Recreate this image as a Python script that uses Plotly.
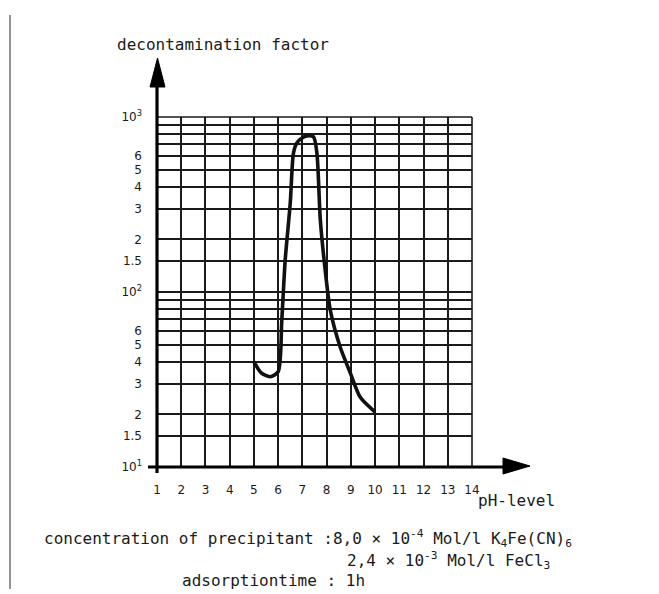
import plotly.graph_objects as go

# ---- data ----
ph_level = [5.0, 5.3, 5.67, 6.0, 6.15, 6.29, 6.5, 6.63, 6.77, 7.0, 7.18, 7.46, 7.6, 7.74, 7.94, 8.15, 8.56, 8.98, 9.39, 10.0]
decon_factor = [40, 34.5, 32.8, 35, 69, 152, 323, 620, 710, 760, 780, 770, 620, 258, 134, 79, 48.5, 34.4, 25, 20.6]

x_ticks = list(range(1, 15))
x_ticktext = [str(v) for v in x_ticks]
y_ticks = [10, 15, 20, 30, 40, 50, 60, 100, 150, 200, 300, 400, 500, 600, 1000]
y_ticktext = ["10<sup>1</sup>", "1.5", "2", "3", "4", "5", "6",
              "10<sup>2</sup>", "1.5", "2", "3", "4", "5", "6",
              "10<sup>3</sup>"]
y_minor_grid = [70, 80, 90, 700, 800, 900]

y_title = "decontamination factor"
x_title = "pH-level"
note1 = "concentration of precipitant :8,0 × 10<sup>-4</sup> Mol/l K<sub>4</sub>Fe(CN)<sub>6</sub>"
note2 = "2,4 × 10<sup>-3</sup> Mol/l FeCl<sub>3</sub>"
note3 = "adsorptiontime : 1h"

# ---- layout geometry (page pixels; the page body has an 8px margin) ----
OFF = 8
W, H = 659 - OFF, 594 - OFF
L, R, T, B = 157, 472, 117, 467   # plot area in page pixels


def px(x):
    return (x - L) / (R - L)


def py(y):
    return (B - y) / (B - T)


MONO = "DejaVu Sans Mono"
INK = "#1a1a1a"

fig = go.Figure()
fig.add_trace(go.Scatter(
    x=ph_level, y=decon_factor, mode="lines",
    line=dict(color="#111111", width=3.6, shape="spline", smoothing=0.7),
    hoverinfo="skip", showlegend=False,
))

shapes = []
# grid edge lines (top and right)
shapes.append(dict(type="line", xref="paper", yref="paper", x0=0, x1=1, y0=1, y1=1,
                   line=dict(color=INK, width=1.6), layer="above"))
shapes.append(dict(type="line", xref="paper", yref="paper", x0=1, x1=1, y0=0, y1=1,
                   line=dict(color=INK, width=1.6), layer="above"))
# y axis with arrow
shapes.append(dict(type="line", xref="paper", yref="paper", x0=0, x1=0, y0=py(473), y1=py(84),
                   line=dict(color="#000", width=3.2), layer="above"))
shapes.append(dict(type="path", xref="paper", yref="paper",
                   path=f"M {px(150)} {py(87)} L {px(157.5)} {py(58)} L {px(165)} {py(87)} Z",
                   fillcolor="#000", line=dict(color="#000", width=1), layer="above"))
# x axis with arrow
shapes.append(dict(type="line", xref="paper", yref="paper", x0=px(148), x1=px(505), y0=0, y1=0,
                   line=dict(color="#000", width=3.2), layer="above"))
shapes.append(dict(type="path", xref="paper", yref="paper",
                   path=f"M {px(503)} {py(458)} L {px(530)} {py(466)} L {px(503)} {py(474)} Z",
                   fillcolor="#000", line=dict(color="#000", width=1), layer="above"))
# page border line from the scan
shapes.append(dict(type="line", xref="paper", yref="paper", x0=px(10), x1=px(10), y0=py(15), y1=py(589),
                   line=dict(color="#777", width=1.6), layer="above"))

annotations = [
    dict(text=y_title, x=px(115), y=py(45), xanchor="left", yanchor="middle",
         font=dict(family=MONO, size=16, color=INK)),
    dict(text=x_title, x=px(476), y=py(500), xanchor="left", yanchor="middle",
         font=dict(family=MONO, size=16, color=INK)),
    dict(text=note1, x=px(42), y=py(538), xanchor="left", yanchor="middle",
         font=dict(family=MONO, size=16, color=INK)),
    dict(text=note2, x=px(345), y=py(560), xanchor="left", yanchor="middle",
         font=dict(family=MONO, size=16, color=INK)),
    dict(text=note3, x=px(180), y=py(580), xanchor="left", yanchor="middle",
         font=dict(family=MONO, size=16, color=INK)),
]
for a in annotations:
    a.update(xref="paper", yref="paper", showarrow=False)

fig.update_layout(
    width=W, height=H,
    margin=dict(l=L - OFF, r=W - (R - OFF), t=T - OFF, b=H - (B - OFF), pad=0),
    paper_bgcolor="white", plot_bgcolor="white",
    showlegend=False,
    shapes=shapes,
    annotations=annotations,
    xaxis=dict(range=[1, 14], tickmode="array", tickvals=x_ticks, ticktext=x_ticktext,
               showgrid=True, gridcolor=INK, gridwidth=1.5, zeroline=False, showline=False,
               ticks="", ticklabelstandoff=14,
               tickfont=dict(family="DejaVu Sans", size=12, color=INK)),
    yaxis=dict(type="log", range=[1, 3], tickmode="array", tickvals=y_ticks, ticktext=y_ticktext,
               showgrid=True, gridcolor=INK, gridwidth=1.6, zeroline=False, showline=False,
               ticks="", ticklabelstandoff=14,
               minor=dict(tickmode="array", tickvals=y_minor_grid, showgrid=True,
                          gridcolor=INK, gridwidth=1.6, ticks=""),
               tickfont=dict(family="DejaVu Sans", size=12, color=INK)),
)

fig.write_html("out.html")
